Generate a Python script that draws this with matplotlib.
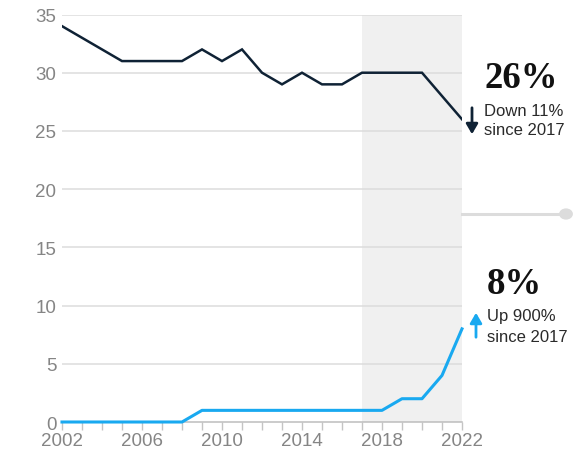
import matplotlib
matplotlib.use("Agg")
import matplotlib.pyplot as plt
from matplotlib.patches import Circle, FancyArrowPatch
from matplotlib.lines import Line2D

years = list(range(2002, 2023))
dark_series = [34, 33, 32, 31, 31, 31, 31, 32, 31, 32, 30, 29, 30, 29, 29, 30, 30, 30, 30, 28, 26]
blue_series = [0, 0, 0, 0, 0, 0, 0, 1, 1, 1, 1, 1, 1, 1, 1, 1, 1, 2, 2, 4, 8]
y_ticks = [0, 5, 10, 15, 20, 25, 30, 35]
x_ticks = [2002, 2006, 2010, 2014, 2018, 2022]
highlight_start = 2017

DARK = "#0f2235"
BLUE = "#19a9f0"
GRID = "#dcdcdc"
TICK = "#858585"
SANS = "Liberation Sans"
SERIF = "Liberation Serif"

W, H = 575, 456
fig = plt.figure(figsize=(W / 100, H / 100), dpi=100)
ax = fig.add_axes([62 / W, 1 - 423 / H, 400 / W, (423 - 15.5) / H])
ax.set_xlim(2002, 2022)
ax.set_ylim(0, 35)

ax.axvspan(highlight_start, 2022, color="#f0f0f0", zorder=0, lw=0)
for v in y_ticks[1:]:
    ax.axhline(v, color=GRID, lw=1.1, zorder=1)

ax.plot(years, dark_series, color=DARK, lw=1.8, zorder=3, solid_joinstyle="miter")
ax.plot(years, blue_series, color=BLUE, lw=2.2, zorder=3, clip_on=False)

for s in ["top", "right", "left"]:
    ax.spines[s].set_visible(False)
ax.spines["bottom"].set_color("#bdbdbd")
ax.spines["bottom"].set_linewidth(1.1)

ax.set_yticks(y_ticks)
ax.set_yticklabels([str(v) for v in y_ticks], family=SANS)
ax.set_xticks(x_ticks)
ax.set_xticklabels([str(v) for v in x_ticks], family=SANS)
ax.set_xticks(years, minor=True)
ax.tick_params(axis="y", length=0, pad=4, labelsize=13.5, labelcolor=TICK)
ax.tick_params(axis="x", which="both", length=6, width=1, color="#c4c4c4",
               labelsize=13.5, labelcolor=TICK, pad=1)

# right-hand slider track
fx = lambda px: px / W
fy = lambda py: 1 - py / H
fig.add_artist(Line2D([fx(462), fx(562)], [fy(215), fy(215)], color=GRID, lw=2.2))
fig.add_artist(Circle((fx(566), fy(215)), radius=6.2 / W, color="#dcdcdc",
                      transform=fig.transFigure))

# annotations
fig.text(fx(485), fy(78), "26%", fontsize=26.5, fontweight="bold", family=SERIF,
         color="#111111", va="center", ha="left")
fig.text(fx(484), fy(111), "Down 11%", fontsize=12, family=SANS, color="#2a2a2a",
         va="center", ha="left")
fig.text(fx(484), fy(131), "since 2017", fontsize=12, family=SANS, color="#2a2a2a",
         va="center", ha="left")
fig.text(fx(487), fy(284), "8%", fontsize=26.5, fontweight="bold", family=SERIF,
         color="#111111", va="center", ha="left")
fig.text(fx(487), fy(316), "Up 900%", fontsize=12, family=SANS, color="#2a2a2a",
         va="center", ha="left")
fig.text(fx(487), fy(337), "since 2017", fontsize=12, family=SANS, color="#2a2a2a",
         va="center", ha="left")

fig.add_artist(FancyArrowPatch(
    (fx(472), fy(106)), (fx(472), fy(138)), transform=fig.transFigure,
    arrowstyle="-|>,head_length=6,head_width=3.5", color=DARK, lw=2, mutation_scale=1))
fig.add_artist(FancyArrowPatch(
    (fx(476), fy(341)), (fx(476), fy(311)), transform=fig.transFigure,
    arrowstyle="-|>,head_length=6,head_width=3.5", color=BLUE, lw=2, mutation_scale=1))

fig.savefig("out.png", dpi=100)
